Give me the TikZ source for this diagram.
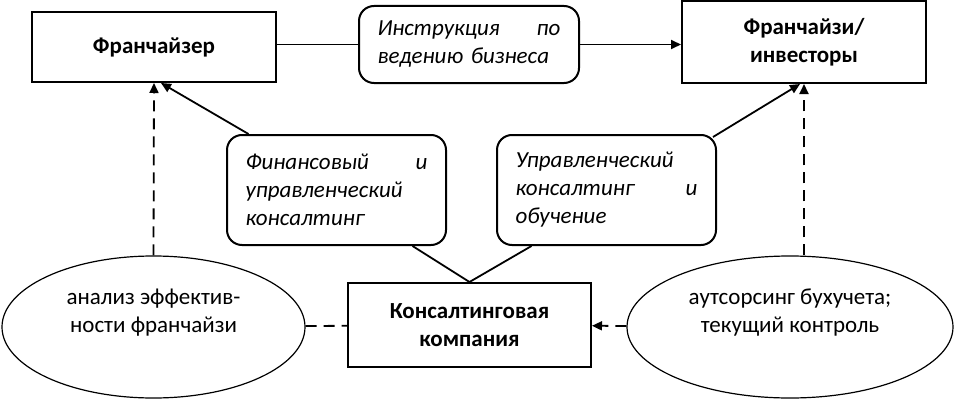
\documentclass[tikz,border=0pt]{standalone}
\usepackage{fontspec}
\setmainfont{Carlito}
\usetikzlibrary{shapes.geometric,arrows.meta}

\begin{document}
\begin{tikzpicture}[x=1pt, y=1pt,
    sqbox/.style={draw, line width=2pt, align=center, font=\fontsize{23}{28}\selectfont\bfseries},
    rbox/.style={draw, line width=2pt, rounded corners=15pt, minimum width=219pt, minimum height=110pt, text width=182pt, align=left, font=\fontsize{23}{28}\selectfont\itshape},
    ellbox/.style={draw, ellipse, line width=1.2pt, minimum height=142pt},
    elltext/.style={align=center, yshift=14pt, font=\fontsize{23}{28}\selectfont},
    conn/.style={line width=1.8pt},
    dconn/.style={conn, dash pattern=on 11pt off 7pt},
    arr/.style={-{Triangle[length=10pt, width=9pt]}}]
  \useasboundingbox (0,0) rectangle (955,400);
  \node[sqbox, minimum width=244pt, minimum height=70pt] (fr) at (154,353) {Франчайзер};
  \node[rbox, minimum width=220pt, minimum height=77pt, text width=183pt] (instr) at (469,355.5) {Инструкция \hfill по\\ведению бизнеса};
  \node[sqbox, minimum width=244pt, minimum height=82pt] (fi) at (804,358) {Франчайзи/\\инвесторы};
  \node[rbox] (fin) at (336.5,210) {Финансовый \hfill и\\управленческий\\консалтинг};
  \node[rbox] (upr) at (606.5,210) {Управленческий\\консалтинг \hfill и\\обучение};
  \node[sqbox, minimum width=243pt, minimum height=84pt] (kons) at (469.5,75) {Консалтинговая\\компания};
  \node[ellbox, minimum width=303pt, label={[elltext]center:{анализ эффектив-\\ности франчайзи}}] (ell1) at (153.5,73) {};
  \node[ellbox, minimum width=326pt, label={[elltext]center:{аутсорсинг бухучета;\\текущий контроль}}] (ell2) at (790,73) {};
  \draw[conn] (fr.east |- instr.west) -- (instr.west);
  \draw[conn, arr] (instr.east) -- (fi.west |- instr.east);
  \draw[conn, arr] ([xshift=-88pt]fin.north) -- ([xshift=7pt]fr.south);
  \draw[conn, arr] ([xshift=-4pt, yshift=-3pt]upr.north east) -- ([xshift=-4pt]fi.south);
  \draw[conn] ([xshift=76pt]fin.south) -- (kons.north);
  \draw[conn] ([xshift=-75pt]upr.south) -- (kons.north);
  \draw[dconn, arr] (ell1.north) -- (fr.south);
  \draw[dconn, arr] (fi.south |- ell2.north) -- (fi.south);
  \draw[dconn] (ell1) -- (kons);
  \draw[dconn, arr] (ell2) -- (kons);
\end{tikzpicture}
\end{document}
